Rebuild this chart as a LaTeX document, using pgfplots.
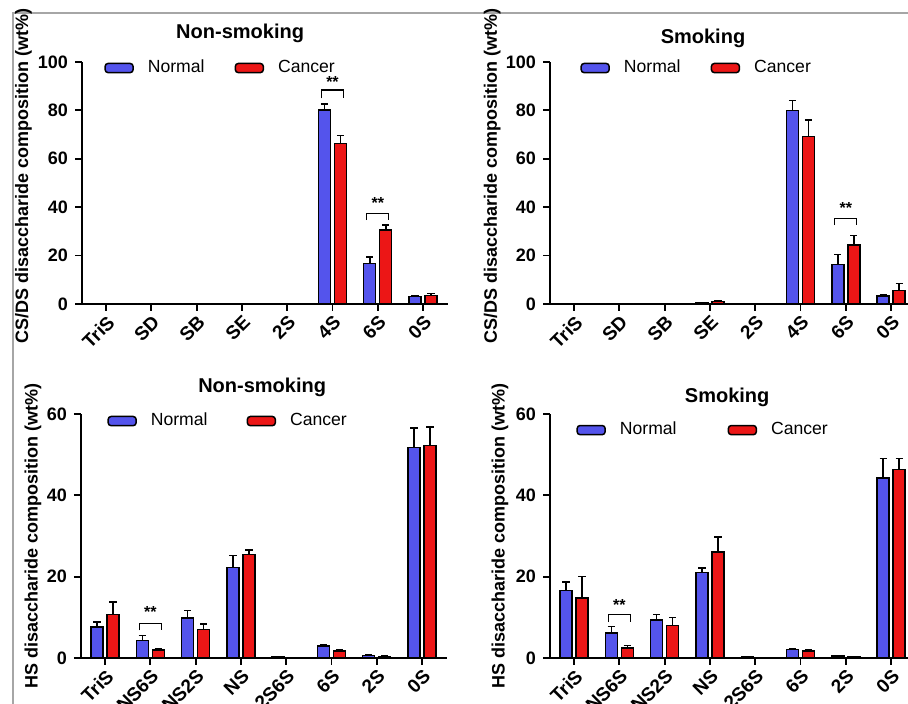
\documentclass[border=0pt]{standalone}
\usepackage{fontspec}
\setmainfont{Liberation Sans}
\usepackage{pgfplots}
\usepackage{pgfplotstable}
\pgfplotsset{compat=1.18}

\definecolor{nblue}{RGB}{84,84,236}
\definecolor{cred}{RGB}{236,22,22}

% x: category index, n/ne: Normal mean/error, c/ce: Cancer mean/error
\pgfplotstableread{
x n ne c ce
0 0 0 0 0
1 0 0 0 0
2 0 0 0 0
3 0.3 0 0.3 0
4 0 0 0 0
5 80.2 2.5 66.4 3.3
6 16.8 2.7 30.6 2.0
7 3.0 0.5 3.5 0.9
}\csnon

\pgfplotstableread{
x n ne c ce
0 0 0 0 0
1 0 0 0 0
2 0.3 0 0 0
3 0.5 0 1.1 0.4
4 0 0 0 0
5 80.0 4.0 69.1 7.0
6 16.4 4.0 24.4 4.0
7 3.3 0.5 5.5 3.0
}\cssmk

\pgfplotstableread{
x n ne c ce
0 7.6 1.3 10.7 3.1
1 4.3 1.2 2.0 0.3
2 9.8 1.9 7.0 1.4
3 22.2 3.0 25.4 1.2
4 0.2 0 0 0
5 2.95 0.3 1.7 0.3
6 0.6 0.1 0.4 0.1
7 51.7 4.9 52.3 4.5
}\hsnon

\pgfplotstableread{
x n ne c ce
0 16.6 2.1 14.75 5.3
1 6.1 1.6 2.5 0.6
2 9.3 1.4 8.0 1.9
3 21.0 1.1 26.1 3.7
4 0.4 0 0 0
5 2.1 0.2 1.7 0.3
6 0.5 0.1 0.3 0.1
7 44.3 4.7 46.4 2.6
}\hssmk

\pgfplotsset{
  panel/.style={
    scale only axis, width=183pt, anchor=south west,
    ybar, bar width=6pt,
    axis lines=left, axis line style={-, line width=0.9pt},
    xmin=-0.53, xmax=7.55, ymin=0,
    xtick={0,...,7},
    tick align=outside, major tick length=3.5pt,
    tick style={line width=0.9pt, black},
    ticklabel style={font=\fontsize{9}{10}\bfseries\selectfont},
    xticklabel style={rotate=45, anchor=north east, inner sep=1pt,
      font=\fontsize{9.5}{10}\bfseries\selectfont},
    /pgf/number format/assume math mode=true,
    ylabel style={font=\fontsize{9}{11}\bfseries\selectfont, anchor=center},
    title style={font=\fontsize{10}{12}\bfseries\selectfont, anchor=center, yshift=-6pt},
    legend columns=2,
    legend style={draw=none, fill=none, anchor=west, inner sep=0pt,
      font=\fontsize{8.8}{10}\selectfont, nodes={inner sep=0pt},
      /tikz/every odd column/.append style={column sep=7pt}},
    legend image code/.code={\draw[#1, rounded corners=1.5pt, line width=0.75pt] (0pt,-2.3pt) rectangle (14pt,2.3pt);},
    error bars/y dir=plus, error bars/y explicit,
    error bars/error bar style={line width=0.75pt, black},
    error bars/error mark options={rotate=90, mark size=1.8pt, line width=0.75pt, black},
    clip=false,
  },
  nb/.style={fill=nblue, draw=black, line width=0.7pt},
  cb/.style={fill=cred, draw=black, line width=0.7pt},
}

\newcommand{\sig}[4]{% index, bar top of legs, bracket level, star level
  \draw[line width=0.6pt] ([xshift=-5.5pt]axis cs:#1,#2) -- ([xshift=-5.5pt]axis cs:#1,#3)
    -- ([xshift=5.5pt]axis cs:#1,#3) -- ([xshift=5.5pt]axis cs:#1,#2);
  \node[font=\fontsize{8}{9}\bfseries\selectfont, inner sep=0pt] at (axis cs:#1,#4) {**};
}

\begin{document}
\begin{tikzpicture}
\path[use as bounding box] (0pt,0pt) rectangle (454pt,352pt);
\clip (0pt,0pt) rectangle (454pt,352pt);
\draw[gray!70, line width=0.6pt] (6.5pt,0pt) -- (6.5pt,345.5pt) -- (454pt,345.5pt);

% CS/DS, non-smoking
\begin{axis}[panel, at={(41pt,200pt)}, height=121pt, ymax=100, ytick={0,20,...,100},
  xticklabels={TriS,SD,SB,SE,2S,4S,6S,0S},
  ylabel={CS/DS disaccharide composition (wt\%)},
  ylabel style={at={(axis description cs:-0.16,0.53)}},
  title={Non-smoking}, title style={at={(0.432,1.12)}},
  legend style={at={(0.06,0.975)}, /tikz/every even column/.append style={column sep=15pt}}]
\addplot[nb] table[x=x, y=n, y error=ne] {\csnon};
\addplot[cb] table[x=x, y=c, y error=ce] {\csnon};
\legend{Normal, Cancer}
\sig{5}{85}{88.4}{91.7}
\sig{6}{34.7}{37.5}{41.6}
\end{axis}

% CS/DS, smoking
\begin{axis}[panel, at={(275pt,200pt)}, height=121pt, ymax=100, ytick={0,20,...,100},
  xticklabels={TriS,SD,SB,SE,2S,4S,6S,0S},
  ylabel={CS/DS disaccharide composition (wt\%)},
  ylabel style={at={(axis description cs:-0.158,0.53)}},
  title={Smoking}, title style={at={(0.418,1.099)}},
  legend style={at={(0.082,0.975)}, /tikz/every even column/.append style={column sep=15pt}}]
\addplot[nb] table[x=x, y=n, y error=ne] {\cssmk};
\addplot[cb] table[x=x, y=c, y error=ce] {\cssmk};
\legend{Normal, Cancer}
\sig{6}{32.6}{35.4}{39.6}
\end{axis}

% HS, non-smoking
\begin{axis}[panel, at={(40.5pt,23pt)}, height=122pt, ymax=60, ytick={0,20,40,60},
  xticklabels={TriS,NS6S,NS2S,NS,2S6S,6S,2S,0S},
  ylabel={HS disaccharide composition (wt\%)},
  ylabel style={at={(axis description cs:-0.131,0.5)}},
  title={Non-smoking}, title style={at={(0.495,1.111)}},
  legend style={at={(0.071,0.971)}, /tikz/every even column/.append style={column sep=19.5pt}}]
\addplot[nb] table[x=x, y=n, y error=ne] {\hsnon};
\addplot[cb] table[x=x, y=c, y error=ce] {\hsnon};
\legend{Normal, Cancer}
\sig{1}{6.8}{8.4}{11.3}
\end{axis}

% HS, smoking
\begin{axis}[panel, at={(275pt,23pt)}, height=122pt, ymax=60, ytick={0,20,40,60},
  xticklabels={TriS,NS6S,NS2S,NS,2S6S,6S,2S,0S},
  ylabel={HS disaccharide composition (wt\%)},
  ylabel style={at={(axis description cs:-0.137,0.5)}},
  title={Smoking}, title style={at={(0.484,1.07)}},
  legend style={at={(0.071,0.934)}, /tikz/every even column/.append style={column sep=25.5pt}}]
\addplot[nb] table[x=x, y=n, y error=ne] {\hssmk};
\addplot[cb] table[x=x, y=c, y error=ce] {\hssmk};
\legend{Normal, Cancer}
\sig{1}{8.85}{10.7}{12.95}
\end{axis}
\end{tikzpicture}
\end{document}
